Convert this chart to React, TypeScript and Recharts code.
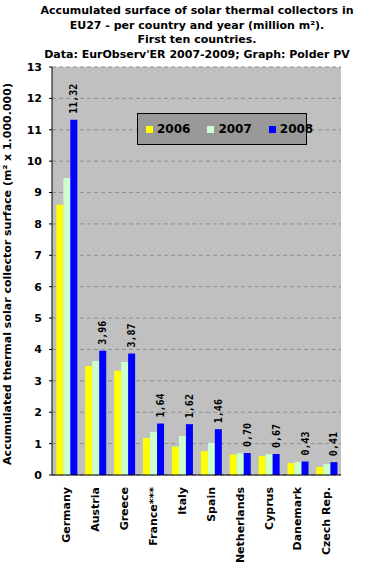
import React from 'react';
import { BarChart, Bar, XAxis, YAxis, CartesianGrid, Legend, LabelList } from 'recharts';

const countries = ['Germany', 'Austria', 'Greece', 'France***', 'Italy', 'Spain', 'Netherlands', 'Cyprus', 'Danemark', 'Czech Rep.'];
const values2006 = [8.61, 3.47, 3.32, 1.18, 0.9, 0.76, 0.65, 0.6, 0.38, 0.26];
const values2007 = [9.46, 3.63, 3.6, 1.37, 1.24, 1.02, 0.69, 0.66, 0.42, 0.35];
const values2008 = [11.32, 3.96, 3.87, 1.64, 1.62, 1.46, 0.7, 0.67, 0.43, 0.41];
const yTicks = [0, 1, 2, 3, 4, 5, 6, 7, 8, 9, 10, 11, 12, 13];
const minorTicks = Array.from({ length: 66 }, (_, i) => +(i * 0.2).toFixed(1));
const boundTicks = [0, 1, 2, 3, 4, 5, 6, 7, 8, 9, 10];
const series = [
  { key: 'y2006', name: '2006', color: '#ffff00' },
  { key: 'y2007', name: '2007', color: '#ccffcc' },
  { key: 'y2008', name: '2008', color: '#0000ff' },
];

const data = countries.map((c, i) => ({
  country: c,
  pos: i + 0.5,
  y2006: values2006[i],
  y2007: values2007[i],
  y2008: values2008[i],
}));

const FONT = '"DejaVu Sans", Verdana, sans-serif';

const XTick = (props: any) => {
  const { x, y, payload } = props;
  return (
    <text
      x={x}
      y={y + 10}
      transform={`rotate(-90 ${x} ${y + 10})`}
      textAnchor="end"
      dy="0.35em"
      fontFamily={FONT}
      fontWeight="bold"
      fontSize={11}
      fill="#000"
    >
      {payload.value}
    </text>
  );
};

const ValueLabel = (props: any) => {
  const { x, y, width, value } = props;
  const cx = x + width / 2;
  const ty = y - 6;
  return (
    <text
      x={cx}
      y={ty}
      transform={`rotate(-90 ${cx} ${ty})`}
      textAnchor="start"
      dy="0.35em"
      fontFamily='"DejaVu Sans Mono", monospace'
      fontWeight="bold"
      fontSize={10}
      fill="#000"
    >
      {Number(value).toFixed(2).replace('.', ',')}
    </text>
  );
};

const LegendBox = () => (
  <div
    style={{
      width: 168,
      height: 30,
      background: '#999999',
      border: '1px solid #000',
      display: 'flex',
      alignItems: 'center',
      fontFamily: FONT,
      fontWeight: 'bold',
      fontSize: 12,
      color: '#000',
    }}
  >
    {series.map((s, i) => (
      <div key={s.key} style={{ display: 'flex', alignItems: 'center', marginLeft: i === 0 ? 8 : 17 }}>
        <span style={{ display: 'inline-block', width: 7, height: 7, background: s.color, marginRight: 4 }} />
        <span>{s.name}</span>
      </div>
    ))}
  </div>
);

export default function App() {
  return (
    <div style={{ position: 'absolute', left: 0, top: 0, width: 371, height: 569, background: '#fff' }}>
      <div
        style={{
          position: 'absolute',
          left: 20,
          top: 4,
          width: 354,
          textAlign: 'center',
          fontFamily: FONT,
          fontWeight: 'bold',
          fontSize: 11,
          lineHeight: '14.5px',
          color: '#000',
        }}
      >
        Accumulated surface of solar thermal collectors in
        <br />
        EU27 - per country and year (million m²).
        <br />
        First ten countries.
        <br />
        Data: EurObserv'ER 2007-2009; Graph: Polder PV
      </div>
      <svg style={{ position: 'absolute', left: 0, top: 0 }} width={30} height={569}>
        <text
          x={11}
          y={274}
          transform="rotate(-90 11 274)"
          textAnchor="middle"
          fontFamily={FONT}
          fontWeight="bold"
          fontSize={11}
          fill="#000"
        >
          Accumulated thermal solar collector surface (m² x 1.000.000)
        </text>
      </svg>
      <BarChart
        width={371}
        height={569}
        data={data}
        margin={{ top: 67, right: 30, bottom: 4, left: 0 }}
        barCategoryGap="15%"
        barGap={0}
      >
        <CartesianGrid fill="#c0c0c0" vertical={false} stroke="#8f8f8f" strokeDasharray="4 3" />
        <XAxis
          dataKey="country"
          height={90}
          interval={0}
          tickLine={false}
          tickSize={0}
          axisLine={{ stroke: '#000' }}
          tick={<XTick />}
        />
        <XAxis
          xAxisId="bounds"
          type="number"
          dataKey="pos"
          domain={[0, 10]}
          ticks={boundTicks}
          height={0}
          axisLine={false}
          tick={false}
          tickSize={4}
          tickLine={{ stroke: '#000' }}
        />
        <XAxis
          xAxisId="top"
          orientation="top"
          dataKey="country"
          height={0}
          tick={false}
          tickLine={false}
          axisLine={{ stroke: '#808080' }}
        />
        <YAxis
          width={52}
          domain={[0, 13]}
          ticks={yTicks}
          interval={0}
          tickSize={3}
          tickMargin={7}
          tickLine={{ stroke: '#000' }}
          axisLine={{ stroke: '#000' }}
          tick={{ fill: '#000', fontFamily: FONT, fontWeight: 'bold', fontSize: 11 }}
        />
        <YAxis
          yAxisId="minor"
          width={0}
          domain={[0, 13]}
          ticks={minorTicks}
          interval={0}
          tick={false}
          tickSize={2}
          tickLine={{ stroke: '#000' }}
          axisLine={false}
        />
        <YAxis
          yAxisId="right"
          orientation="right"
          width={0}
          domain={[0, 13]}
          tick={false}
          tickLine={false}
          axisLine={{ stroke: '#808080' }}
        />
        <Legend
          layout="horizontal"
          verticalAlign="middle"
          align="center"
          wrapperStyle={{ position: 'absolute', left: 137, top: 113, width: 170 }}
          content={() => <LegendBox />}
        />
        {series.map((s) => (
          <Bar key={s.key} dataKey={s.key} name={s.name} fill={s.color} isAnimationActive={false}>
            {s.key === 'y2008' && <LabelList dataKey={s.key} content={<ValueLabel />} />}
          </Bar>
        ))}
      </BarChart>
    </div>
  );
}
